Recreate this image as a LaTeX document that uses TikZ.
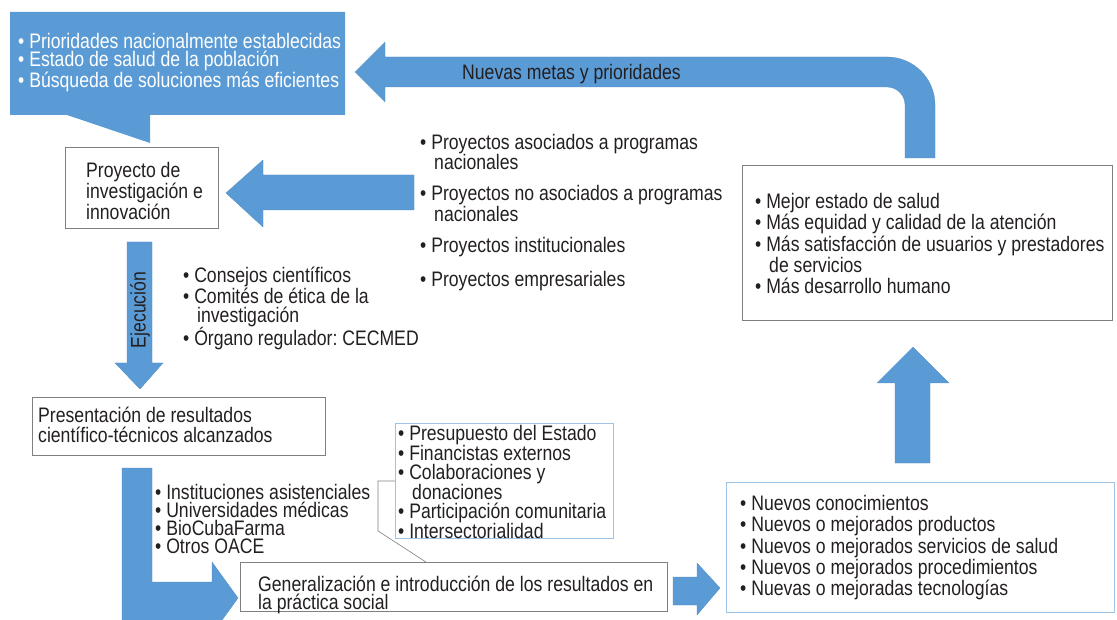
\documentclass[tikz,border=0pt]{standalone}
\usepackage{fontspec}
\setmainfont{Liberation Sans}[FakeStretch=0.84]
\usepackage{xcolor}
\usepackage{tikz}

\definecolor{flowblue}{HTML}{5B9BD5}
\definecolor{boxgray}{HTML}{7F7F7F}
\definecolor{lineblue}{HTML}{9DC3E6}
\definecolor{inkdark}{HTML}{231F20}

\newcommand{\cont}{\hspace*{14pt}}

\tikzset{
  box/.style={draw=boxgray, line width=0.8pt, anchor=north west, inner sep=0pt},
  bluebox/.style={draw=lineblue, line width=0.9pt, anchor=north west, inner sep=0pt},
  txt/.style={anchor=north west, inner sep=0pt, align=left, text=inkdark,
    font=\fontsize{21}{18.3}\selectfont},
  blockarrow/.style={fill=flowblue, draw=flowblue!90!black, line width=0.3pt}
}

\begin{document}
\frenchspacing
\begin{tikzpicture}[x=1pt,y=-1pt]
        \useasboundingbox (0,0) rectangle (1117,620);

        % Callout with the starting priorities
        \fill[flowblue] (10,12) -- (345,12) -- (345,115) -- (150,115) -- (150,143) -- (67,115) -- (10,115) -- cycle;
        \node[txt, text=white] (prio) at (18,33) {• Prioridades nacionalmente establecidas\\ • Estado de salud de la población\\ • Búsqueda de soluciones más eficientes};

        % Feedback arrow (top, bent)
        \path[blockarrow] (355,72) -- (385,42) -- (385,57) -- (887,57)
            arc[start angle=-90, end angle=0, radius=48] -- (935,158) -- (905,158) -- (905,105)
            arc[start angle=0, end angle=-90, radius=18] -- (385,87) -- (385,102) -- cycle;
        \node[txt] (metas) at (462,64) {Nuevas metas y prioridades};

        % Project box
        \node[box, minimum width=153pt, minimum height=81pt] (proj) at (65,147) {};
        \node[txt, font=\fontsize{21}{19}\selectfont] (projtxt) at (86,162) {Proyecto de\\ investigación e\\ innovación};

        % Arrow into the project box
        \path[blockarrow] (226,193) -- (263,160) -- (263,175) -- (414,175) -- (414,210) -- (263,210) -- (263,227) -- cycle;
        \node[txt, font=\fontsize{21}{18}\selectfont] (tipos) at (420,134) {• Proyectos asociados a programas\\ \cont nacionales\\[13pt] • Proyectos no asociados a programas\\ \cont nacionales\\[13pt] • Proyectos institucionales\\[13pt] • Proyectos empresariales};

        % Outcomes box (right)
        \node[box, minimum width=370pt, minimum height=155pt] (impacto) at (742,165) {};
        \node[txt, font=\fontsize{21}{21.3}\selectfont] (impactotxt) at (755,193) {• Mejor estado de salud\\ • Más equidad y calidad de la atención\\ • Más satisfacción de usuarios y prestadores\\ \cont de servicios\\ • Más desarrollo humano};

        % Execution arrow (down)
        \path[blockarrow] (127,242) -- (152,242) -- (152,363) -- (163,363) -- (140,389) -- (115,363) -- (127,363) -- cycle;
        \node[text=inkdark, font=\fontsize{21}{21}\selectfont, rotate=90, inner sep=0pt] (ejec) at (140,310) {Ejecución};
        \node[txt, font=\fontsize{21}{18.7}\selectfont] (control) at (183,267) {• Consejos científicos\\ • Comités de ética de la\\ \cont investigación\\ • Órgano regulador: CECMED};

        % Results box
        \node[box, minimum width=293pt, minimum height=58pt] (result) at (32,397) {};
        \node[txt, font=\fontsize{21}{20}\selectfont] (resulttxt) at (38,406.5) {Presentación de resultados\\ científico-técnicos alcanzados};

        % Bent arrow down and right
        \path[blockarrow] (122,468) -- (152,468) -- (152,582) -- (212,582) -- (212,562) -- (238,598) -- (212,634) -- (212,625) -- (122,625) -- cycle;
        \node[txt, font=\fontsize{21}{18}\selectfont] (actores) at (155,484.5) {• Instituciones asistenciales\\ • Universidades médicas\\ • BioCubaFarma\\ • Otros OACE};

        % Funding box
        \node[bluebox, minimum width=218pt, minimum height=115pt] (fondos) at (395,423) {};
        \node[txt, font=\fontsize{21}{18.4}\selectfont] (fondostxt) at (398,425) {• Presupuesto del Estado\\ • Financistas externos\\ • Colaboraciones y\\ \cont donaciones\\ • Participación comunitaria\\ • Intersectorialidad};

        % Generalization box
        \node[box, minimum width=427pt, minimum height=49pt] (general) at (240,562) {};
        \node[txt, font=\fontsize{21}{18}\selectfont] (generaltxt) at (258,576) {Generalización e introducción de los resultados en\\ la práctica social};

        % Bracket from funding to generalization
        \draw[boxgray, line width=0.6pt] (fondos.west) -- ++(-17,0) -- ++(0,50) -- ([xshift=-28pt]general.north);

        % Small arrow to the products box
        \path[blockarrow] (673,577) -- (697,577) -- (697,563) -- (720,588) -- (697,615) -- (697,605) -- (673,605) -- cycle;

        % Products box
        \node[bluebox, minimum width=388pt, minimum height=130pt] (productos) at (726,482) {};
        \node[txt, font=\fontsize{21}{21.3}\selectfont] (productostxt) at (740,495) {• Nuevos conocimientos\\ • Nuevos o mejorados productos\\ • Nuevos o mejorados servicios de salud\\ • Nuevos o mejorados procedimientos\\ • Nuevas o mejoradas tecnologías};

        % Arrow up to the outcomes box
        \path[blockarrow] (895,463) -- (930,463) -- (930,383) -- (949,383) -- (913,347) -- (877,383) -- (895,383) -- cycle;
    \end{tikzpicture}
\end{document}
